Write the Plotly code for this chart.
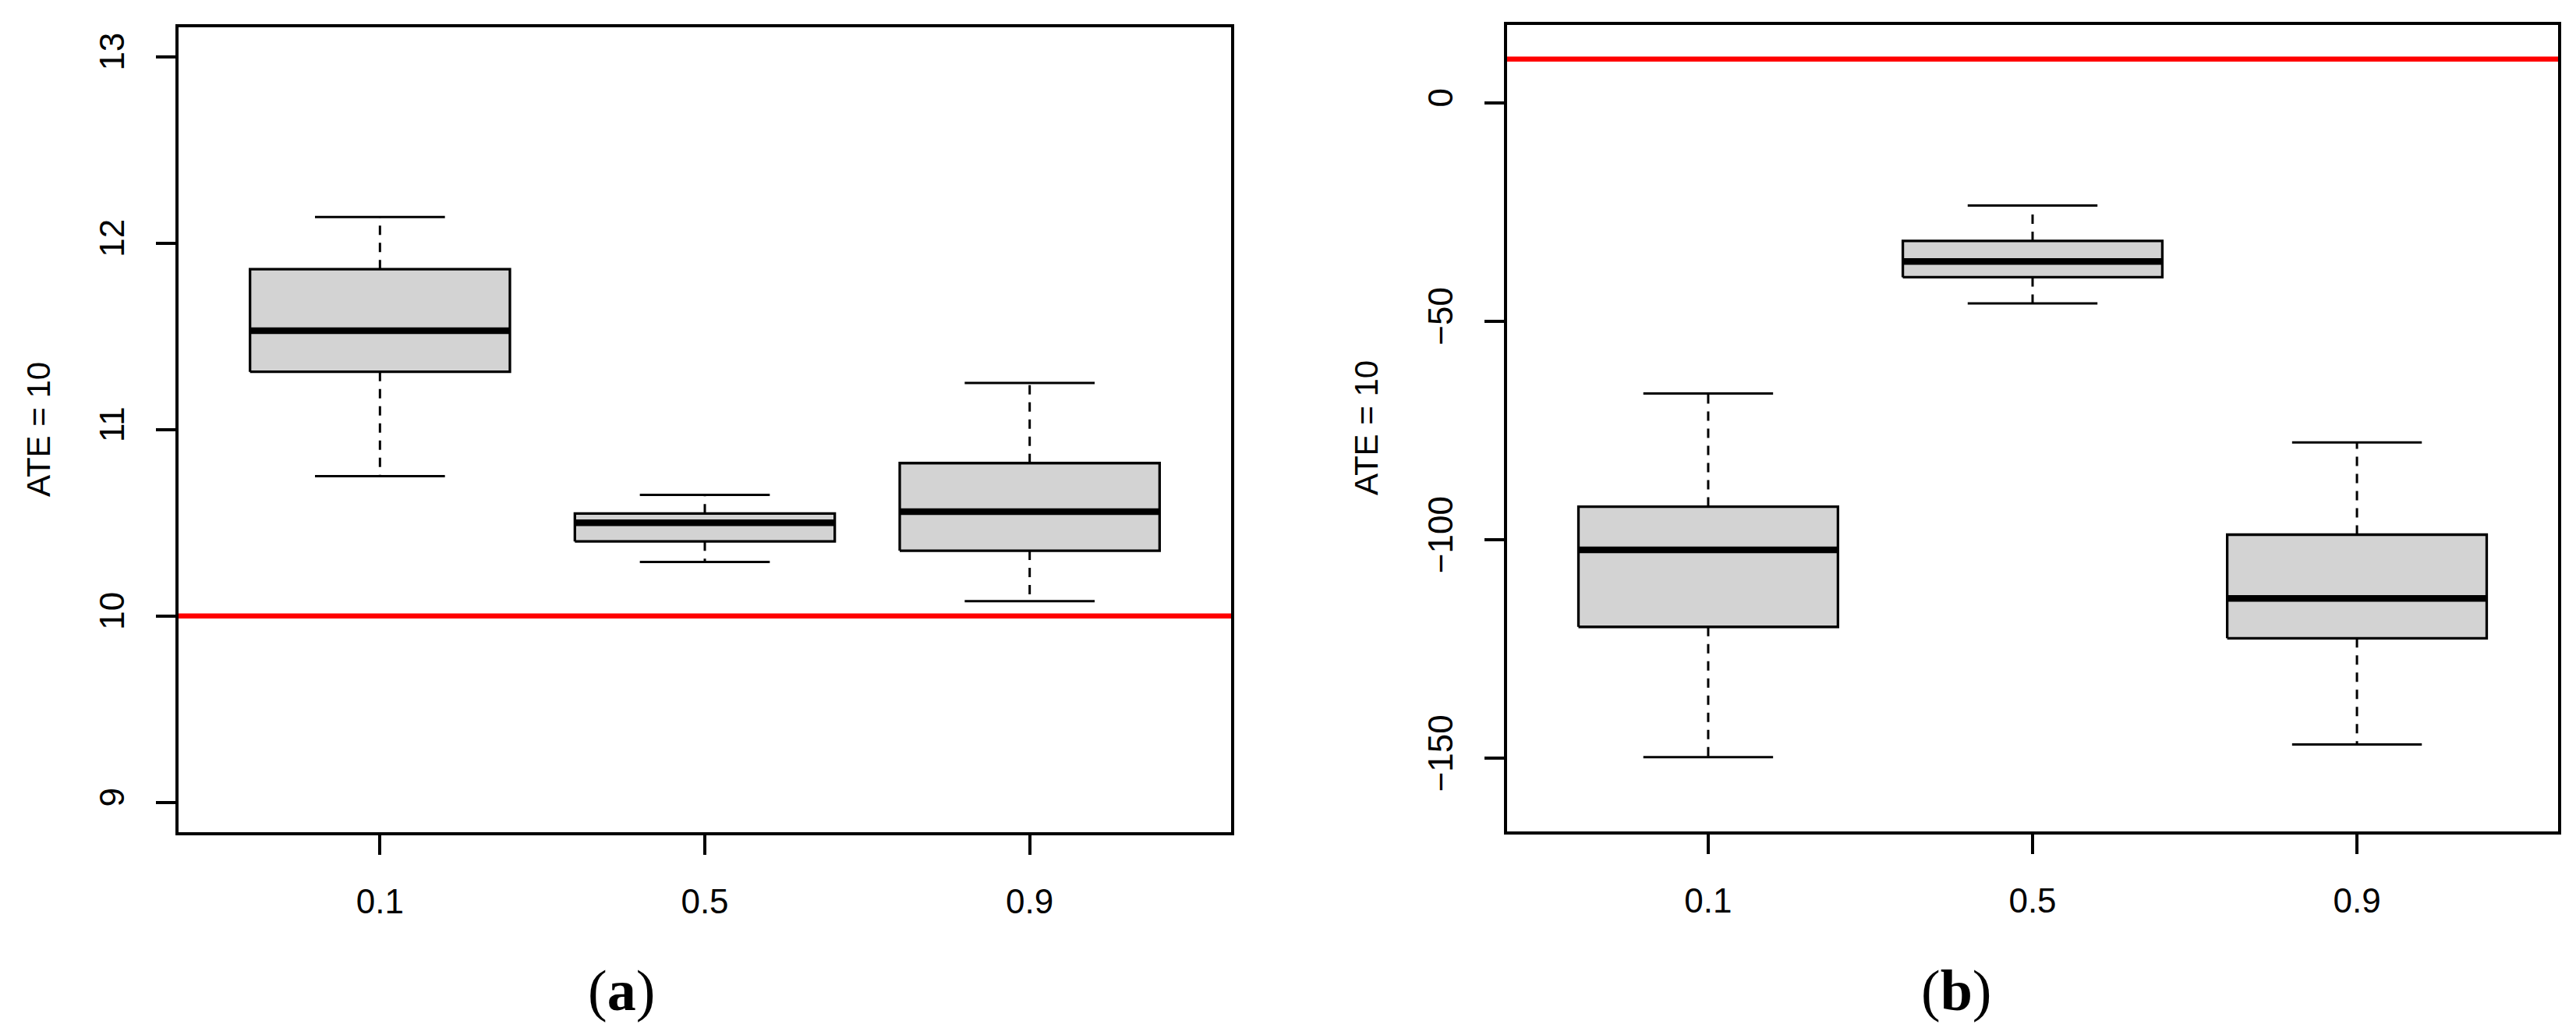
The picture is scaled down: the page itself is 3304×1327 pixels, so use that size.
import plotly.graph_objects as go

# ── Data ─────────────────────────────────────────────────────────────────────
quantiles = ["0.1", "0.5", "0.9"]
ate = 10

# panel (a)
a_lower  = [10.75, 10.29, 10.08]
a_q1     = [11.31, 10.40, 10.35]
a_median = [11.53, 10.50, 10.56]
a_q3     = [11.86, 10.55, 10.82]
a_upper  = [12.14, 10.65, 11.25]
a_ticks  = [9, 10, 11, 12, 13]

# panel (b)
b_lower  = [-149.7, -45.9, -146.8]
b_q1     = [-119.9, -39.9, -122.5]
b_median = [-102.3, -36.3, -113.4]
b_q3     = [-92.4, -31.6, -98.8]
b_upper  = [-66.5, -23.5, -77.7]
b_ticks  = [-150, -100, -50, 0]

FILL = "#d3d3d3"
INK = "black"
RED = "#ff0000"
SANS = "Liberation Sans, Arial, sans-serif"
SERIF = "Liberation Serif, Times New Roman, serif"
W, H = 3304, 1327


def box_traces(xa, ya, lower, q1, med, q3, upper):
    # R-style boxplot: grey box, thick median, dashed whiskers, short caps
    pos = list(range(1, len(quantiles) + 1))
    half, cap = 0.4, 0.2
    rx, ry, mx, my, wx, wy, cx, cy = [], [], [], [], [], [], [], []
    for p, lo, a, m, b, hi in zip(pos, lower, q1, med, q3, upper):
        rx += [p - half, p + half, p + half, p - half, p - half, None]
        ry += [a, a, b, b, a, None]
        mx += [p - half, p + half, None]
        my += [m, m, None]
        wx += [p, p, None, p, p, None]
        wy += [b, hi, None, a, lo, None]
        cx += [p - cap, p + cap, None, p - cap, p + cap, None]
        cy += [hi, hi, None, lo, lo, None]
    common = dict(xaxis=xa, yaxis=ya, showlegend=False, hoverinfo="skip")
    return [
        go.Scatter(x=wx, y=wy, mode="lines",
                   line=dict(color=INK, width=3, dash="12px,10px"), **common),
        go.Scatter(x=cx, y=cy, mode="lines",
                   line=dict(color=INK, width=3), **common),
        go.Scatter(x=rx, y=ry, mode="lines", fill="toself", fillcolor=FILL,
                   line=dict(color=INK, width=3.3), **common),
        go.Scatter(x=mx, y=my, mode="lines",
                   line=dict(color=INK, width=8.5), **common),
    ]


fig = go.Figure()
for t in box_traces("x", "y", a_lower, a_q1, a_median, a_q3, a_upper):
    fig.add_trace(t)
for t in box_traces("x2", "y2", b_lower, b_q1, b_median, b_q3, b_upper):
    fig.add_trace(t)

# reference line at the true ATE
fig.add_shape(type="line", xref="x domain", yref="y", x0=0, x1=1, y0=ate, y1=ate,
              line=dict(color=RED, width=6.5))
fig.add_shape(type="line", xref="x2 domain", yref="y2", x0=0, x1=1, y0=ate, y1=ate,
              line=dict(color=RED, width=6.5))

axis_style = dict(
    showline=True, mirror=True, linecolor=INK, linewidth=3.5,
    ticks="outside", ticklen=25, tickwidth=3.5, tickcolor=INK,
    showgrid=False, zeroline=False,
    tickfont=dict(family=SANS, size=44, color=INK),
)
pos = list(range(1, len(quantiles) + 1))

fig.update_layout(
    width=W, height=H,
    autosize=False,
    margin=dict(l=0, r=0, t=0, b=0),
    paper_bgcolor="white", plot_bgcolor="white",
    xaxis=dict(domain=[229 / W, 1579 / W], range=[0.38, 3.62], anchor="y",
               tickvals=pos, ticktext=quantiles, ticklabelstandoff=22, **axis_style),
    yaxis=dict(domain=[1 - 1067 / H, 1 - 34.5 / H], range=[8.84, 13.16], anchor="x",
               tickvals=a_ticks, tickangle=-90, ticklabelstandoff=24, **axis_style),
    xaxis2=dict(domain=[1933 / W, 3281 / W], range=[0.38, 3.62], anchor="y2",
                tickvals=pos, ticktext=quantiles, ticklabelstandoff=22, **axis_style),
    yaxis2=dict(domain=[1 - 1066 / H, 1 - 31.7 / H], range=[-166.7, 17.86], anchor="x2",
                tickvals=b_ticks, tickangle=-90, ticklabelstandoff=24, **axis_style),
)

# y-axis titles
for xpos, ycen in [(50 / W, 1 - 551 / H), (1753 / W, 1 - 549 / H)]:
    fig.add_annotation(xref="paper", yref="paper", x=xpos, y=ycen,
                       text="ATE = 10", textangle=-90, showarrow=False,
                       xanchor="center", yanchor="middle",
                       font=dict(family=SANS, size=42, color=INK))

# panel labels
for xpos, lab in [(797 / W, "a"), (2509 / W, "b")]:
    fig.add_annotation(xref="paper", yref="paper", x=xpos, y=1 - 1270 / H,
                       text=f"(<b>{lab}</b>)", showarrow=False,
                       xanchor="center", yanchor="middle",
                       font=dict(family=SERIF, size=74, color=INK))

# drop the browser's default body margin so the figure sits at the page origin
fig.write_html("out.html", config={"displayModeBar": False},
               post_script="document.body.style.margin='0px';")
